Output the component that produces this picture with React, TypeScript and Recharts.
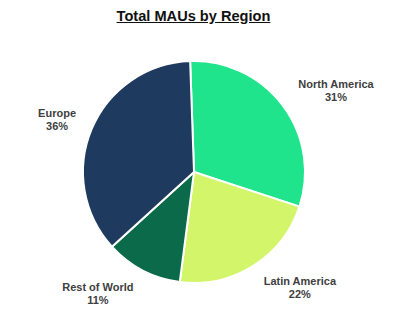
import { PieChart, Pie, Cell } from "recharts"

const regions = ["North America", "Latin America", "Rest of World", "Europe"]
const shares = [30.6, 22.0, 11.2, 36.2]
const COLORS = ["#1fe48c", "#d3f56a", "#0b6a49", "#1f3a5f"]

const data = regions.map((name, i) => ({ name, value: shares[i] }))

const RAD = Math.PI / 180

const renderLabel = (props: any) => {
  const { cx, cy, midAngle, percent, name } = props
  const cos = Math.cos(-midAngle * RAD)
  const sin = Math.sin(-midAngle * RAD)
  // push the label box outward depending on how wide the name is
  const halfW = name.length * 3.1
  const x = cx + 136 * cos + Math.sign(cos) * (halfW - 7)
  const y = cy + 136 * sin
  return (
    <text
      x={x}
      y={y}
      textAnchor="middle"
      fill="#404040"
      fontSize={11}
      fontWeight="bold"
      fontFamily="'Liberation Sans', Arial, sans-serif"
    >
      <tspan x={x} y={y - 2}>{name}</tspan>
      <tspan x={x} y={y + 11}>{`${(percent * 100).toFixed(0)}%`}</tspan>
    </text>
  )
}

export default function App() {
  return (
    <div style={{ position: "absolute", left: 0, top: 0, width: 413, height: 326, background: "#fff" }}>
      <div
        style={{
          position: "absolute",
          left: 0,
          top: 8,
          width: 387,
          textAlign: "center",
          fontFamily: "'Liberation Sans', Arial, sans-serif",
          fontWeight: "bold",
          fontSize: 14.6,
          color: "#111",
          textDecoration: "underline",
        }}
      >
        Total MAUs by Region
      </div>
      <PieChart width={413} height={326}>
        <Pie
          data={data}
          dataKey="value"
          nameKey="name"
          cx={189}
          cy={167}
          outerRadius={111}
          startAngle={92}
          endAngle={-268}
          stroke="#ffffff"
          strokeWidth={2}
          labelLine={false}
          label={renderLabel}
          isAnimationActive={false}
        >
          {data.map((entry, index) => (
            <Cell key={`cell-${index}`} fill={COLORS[index % COLORS.length]} />
          ))}
        </Pie>
      </PieChart>
    </div>
  )
}
